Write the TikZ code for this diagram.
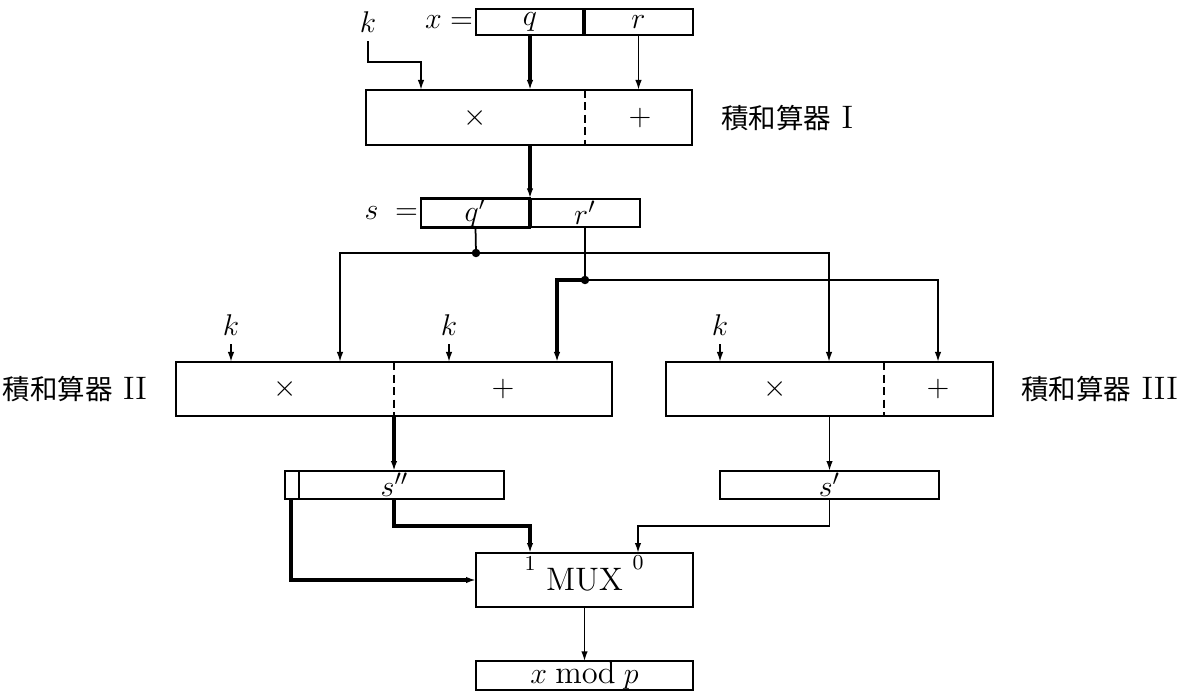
\documentclass[tikz,border=0pt]{standalone}
\usepackage{fontspec}
\newfontfamily\cjk{Noto Sans CJK JP}
\usetikzlibrary{arrows.meta}
\begin{document}
\begin{tikzpicture}[x=0.4pt,y=-0.4pt, font=\fontsize{13}{15}\selectfont,
 box/.style={draw, line width=0.9pt, inner sep=0pt, outer sep=0pt},
 arr/.style={-{Latex[length=4pt,width=2.6pt]}, line width=0.7pt},
 thk/.style={line width=1.3pt},
 dv/.style={line width=0.9pt, dash pattern=on 3.2pt off 1.8pt},
 cjklbl/.style={inner sep=1pt},
 small/.style={font=\fontsize{8.5}{10}\selectfont, inner sep=0pt}]
\useasboundingbox (0,0) rectangle (1177,691);

% top register x
\node[box, minimum width=43.2pt, minimum height=10.4pt] (q) at (530,22) {$q$};
\node[box, minimum width=43.6pt, minimum height=10.4pt] (r) at (638.5,22) {$r$};
\draw[thk] (q.north east) -- (q.south east);
\node[anchor=east, inner sep=1pt] (xeq) at (q.west) {$x=$};
\node (kt) at (368,22) {$k$};

% multiply-adder I
\node[box, minimum width=130.4pt, minimum height=22pt] (m1) at (529,117.5) {};
\node (m1x) at (475,118) {$\times$};
\node (m1p) at (640,118) {$+$};
\draw[dv] (m1.north -| 585,0) -- (m1.south -| 585,0);
\node[anchor=west, cjklbl] (l1) at (718,118) {{\cjk\fontsize{11}{13}\selectfont 積和算器} I};

% register s
\node[box, minimum width=43.6pt, minimum height=11.2pt] (qp) at (475.5,213) {$q'$};
\node[box, minimum width=44pt, minimum height=11.2pt] (rp) at (585,213) {$r'$};
\draw[thk] (qp.north east) -- (qp.south east);
\node[anchor=east, inner sep=1pt] (seq) at (qp.west) {$s\;=$};

% multiply-adder II
\node[box, minimum width=174.4pt, minimum height=21.6pt] (m2) at (394,389) {};
\node (m2x) at (285,389) {$\times$};
\node (m2p) at (503,389) {$+$};
\draw[dv] (m2.north) -- (m2.south);
\node[anchor=east, cjklbl] (l2) at (150,389) {{\cjk\fontsize{11}{13}\selectfont 積和算器} II};

% multiply-adder III
\node[box, minimum width=130.8pt, minimum height=21.6pt] (m3) at (829.5,389) {};
\node (m3x) at (775,389) {$\times$};
\node (m3p) at (938,389) {$+$};
\draw[dv] (m3.north -| 884,0) -- (m3.south -| 884,0);
\node[anchor=west, cjklbl] (l3) at (1018,389) {{\cjk\fontsize{11}{13}\selectfont 積和算器} III};

% k inputs
\node (k2) at (231,325) {$k$};
\node (k3) at (449,325) {$k$};
\node (k4) at (720,325) {$k$};

% registers s'' and s'
\node[box, minimum width=87.6pt, minimum height=11.2pt] (spp) at (394.5,485) {$s''$};
\draw[line width=0.9pt] (spp.north -| 299,0) -- (spp.south -| 299,0);
\node[box, minimum width=87.6pt, minimum height=11.2pt] (sp) at (829.5,485) {$s'$};

% MUX and output
\node[box, minimum width=86.8pt, minimum height=21.6pt] (mux) at (584.5,580) {\raisebox{-2pt}{MUX}};
\node[small] (one) at (530,563) {1};
\node[small] (zero) at (638,563) {0};
\node[box, minimum width=86.8pt, minimum height=10.8pt] (out) at (584.5,675.5) {$x \bmod p$};

% connectors
\coordinate (kb) at (421,62);
\draw[arr] (kt.south) |- (kb) -- (m1.north -| kb);
\draw[arr,thk] (q.south) -- (m1.north -| q.south);
\draw[arr] (r.south) -- (m1.north -| r.south);
\draw[arr,thk] (m1.south -| qp.north east) -- (qp.north east);

\coordinate (j1) at (476,253);
\coordinate (j2) at (585,280);
\draw[line width=0.7pt] (qp.south) -- (j1);
\draw[line width=0.7pt] (rp.south) -- (j2);
\draw[arr] (j1) -| (m2.north -| 340,0);
\draw[arr] (j1) -| (m3.north -| 829,0);
\draw[arr,thk] (j2) -| (m2.north -| 557,0);
\draw[arr] (j2) -| (m3.north -| 938,0);
\fill (j1) circle (1.7pt);
\fill (j2) circle (1.7pt);

\draw[arr] (k2.south) -- (k2.south |- m2.north);
\draw[arr] (k3.south) -- (k3.south |- m2.north);
\draw[arr] (k4.south) -- (k4.south |- m3.north);

\draw[arr,thk] (m2.south) -- (spp.north -| m2.south);
\draw[arr] (m3.south) -- (sp.north);

\coordinate (b1) at (530,526);
\coordinate (b0) at (638,526);
\draw[arr,thk] (spp.south -| 394,0) |- (b1) -- (mux.north -| b1);
\draw[arr] (sp.south) |- (b0) -- (mux.north -| b0);
\draw[arr,thk] (spp.south -| 291,0) |- (mux.west);
\draw[arr] (mux.south) -- (out.north);
\end{tikzpicture}
\end{document}
